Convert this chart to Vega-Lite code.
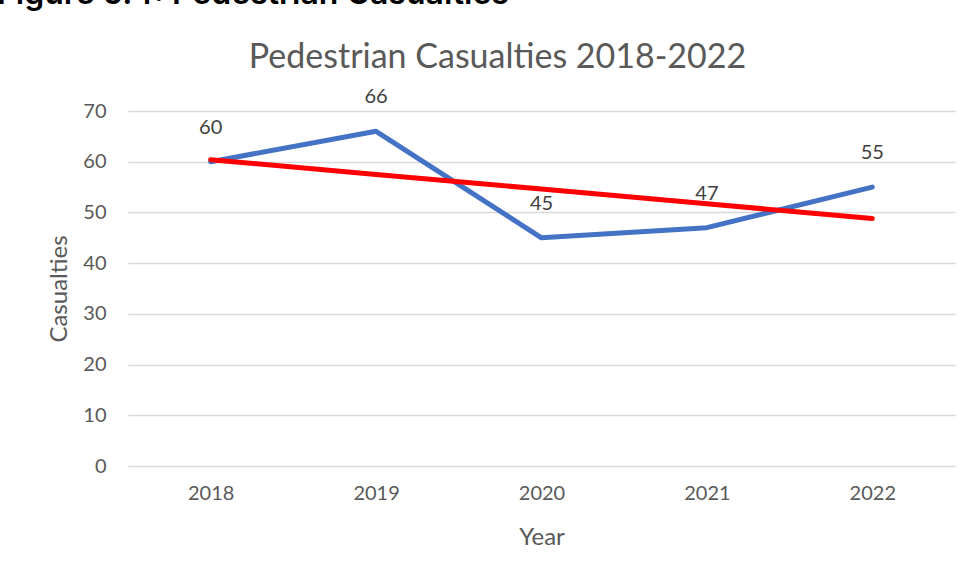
{
  "$schema": "https://vega.github.io/schema/vega-lite/v6.json",
  "width": 827,
  "height": 355,
  "autosize": {"type": "none"},
  "padding": {"left": 128, "top": 111, "right": 15, "bottom": 112},
  "background": "white",
  "title": {
    "text": "Figure 5.4: Pedestrian Casualties",
    "anchor": "start",
    "frame": "group",
    "font": "Inter",
    "fontSize": 32,
    "fontWeight": 600,
    "color": "#000000",
    "baseline": "alphabetic",
    "dx": -131,
    "dy": 36,
    "offset": 40
  },
  "data": {
    "values": [
      {"year": "2018", "casualties": 60, "trend": 60.4},
      {"year": "2019", "casualties": 66, "trend": 57.5},
      {"year": "2020", "casualties": 45, "trend": 54.6},
      {"year": "2021", "casualties": 47, "trend": 51.7},
      {"year": "2022", "casualties": 55, "trend": 48.8}
    ]
  },
  "layer": [
    {
      "mark": {"type": "line", "color": "#4472C4", "strokeWidth": 5, "strokeCap": "round", "strokeJoin": "round"},
      "encoding": {
        "x": {
          "field": "year", "type": "ordinal",
          "scale": {"type": "point", "padding": 0.5},
          "axis": {
            "orient": "bottom", "title": "Year", "labelAngle": 0,
            "domain": false, "ticks": false, "grid": false,
            "labelPadding": 17, "labelFontSize": 20, "labelColor": "#595959",
            "titleFontSize": 24, "titleColor": "#595959", "titleFontWeight": "normal", "titlePadding": 22
          }
        },
        "y": {
          "field": "casualties", "type": "quantitative",
          "scale": {"domain": [0, 70], "nice": false},
          "axis": {
            "title": "Casualties", "values": [0, 10, 20, 30, 40, 50, 60, 70],
            "grid": true, "gridColor": "#d9d9d9", "gridWidth": 1.5,
            "domain": false, "ticks": false,
            "labelPadding": 22, "labelFontSize": 20, "labelColor": "#595959",
            "titleFontSize": 24, "titleColor": "#595959", "titleFontWeight": "normal", "titlePadding": 11
          }
        }
      }
    },
    {
      "mark": {"type": "line", "color": "#FF0000", "strokeWidth": 5, "strokeCap": "round"},
      "encoding": {
        "x": {
          "field": "year", "type": "ordinal",
          "axis": {
            "orient": "top", "title": "Pedestrian Casualties 2018-2022",
            "labels": false, "ticks": false, "domain": false, "grid": false,
            "titleFontSize": 34, "titleColor": "#595959", "titleFontWeight": "normal",
            "titleX": 369, "titleY": -44, "titleBaseline": "alphabetic", "titleAlign": "center"
          }
        },
        "y": {"field": "trend", "type": "quantitative"}
      }
    },
    {
      "mark": {"type": "text", "dy": -34, "fontSize": 20, "color": "#404040", "font": "Lato"},
      "encoding": {
        "x": {"field": "year", "type": "ordinal", "axis": null},
        "y": {"field": "casualties", "type": "quantitative"},
        "text": {"field": "casualties", "type": "quantitative"}
      }
    }
  ],
  "resolve": {"axis": {"x": "independent"}},
  "config": {
    "font": "Lato",
    "view": {"stroke": null},
    "axis": {"labelFont": "Lato", "titleFont": "Lato"}
  }
}
